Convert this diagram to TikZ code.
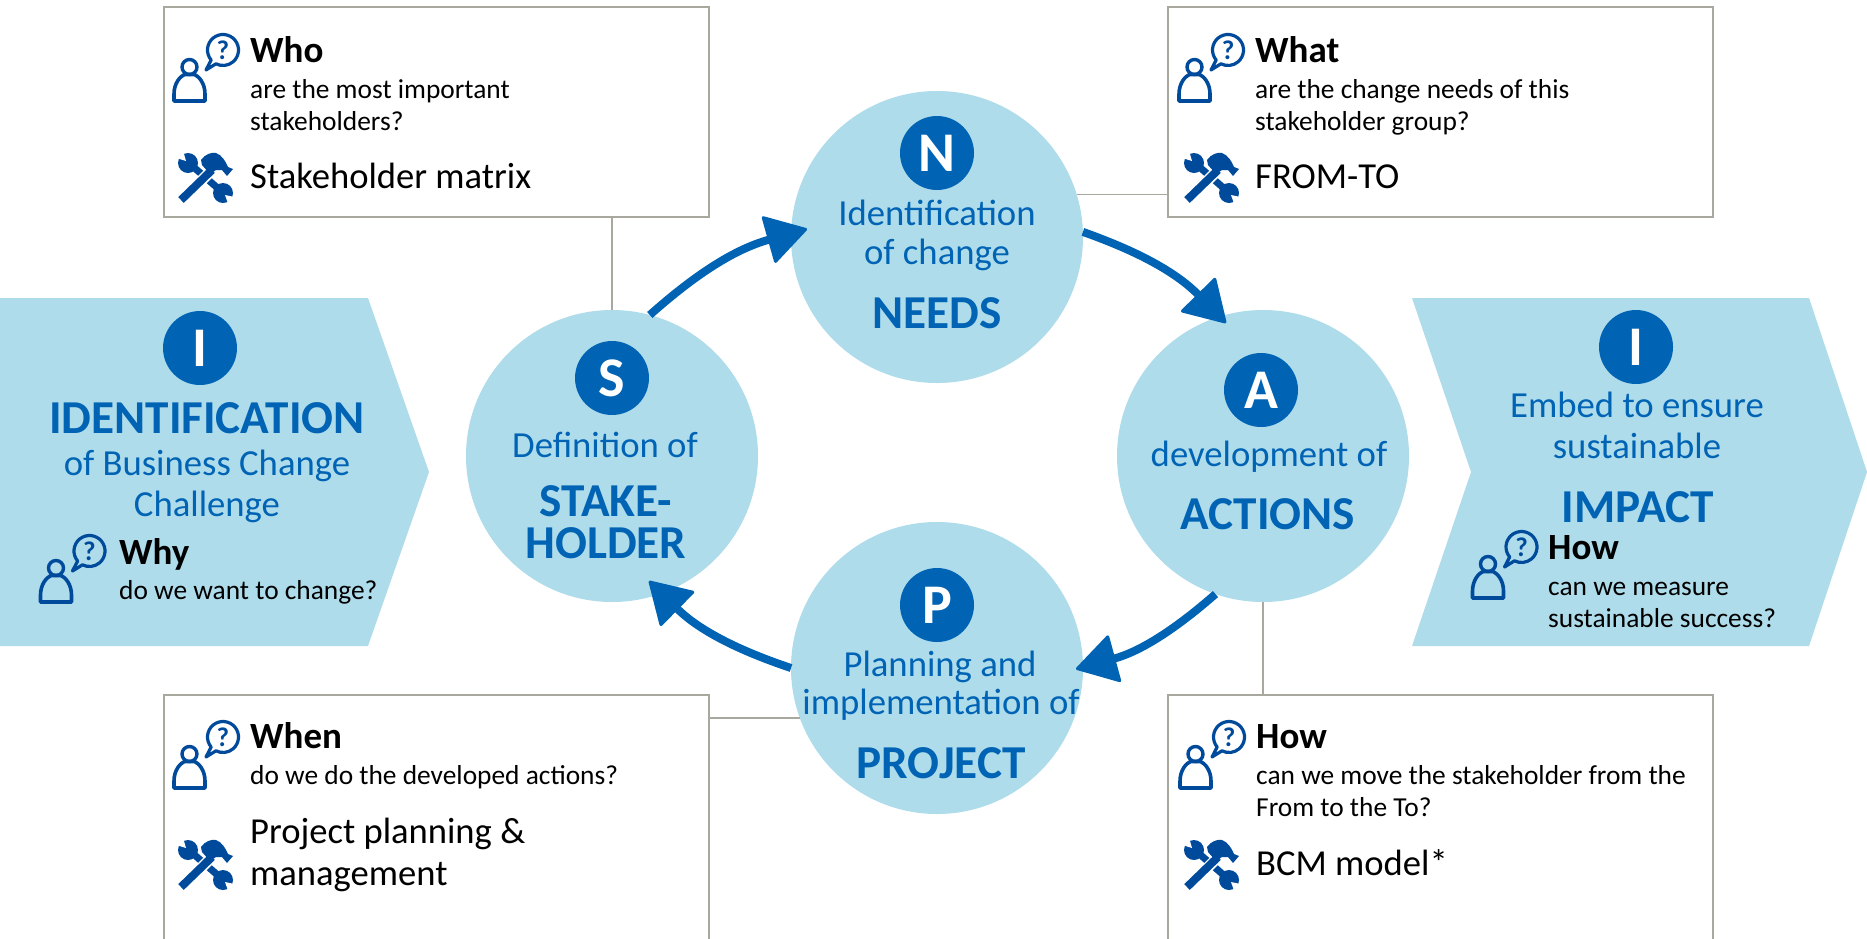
\documentclass[tikz,border=0pt]{standalone}
\usepackage{fontspec}
\setmainfont{Carlito}
\usetikzlibrary{arrows.meta}
\definecolor{paleblue}{HTML}{AEDCEB}
\definecolor{deepblue}{HTML}{0063B4}
\definecolor{iconblue}{HTML}{004A9C}
\definecolor{boxgrey}{HTML}{A8A89E}
\newcommand{\fs}[1]{\fontsize{#1}{#1}\selectfont}
\tikzset{
  askbox/.style={draw=boxgrey,line width=1.5pt,fill=white,anchor=north west,minimum width=545pt,inner sep=0pt,outer sep=0pt},
  disc/.style={circle,fill=paleblue,minimum size=292pt,inner sep=0pt,outer sep=0pt},
  badge/.style={circle,fill=deepblue,text=white,minimum size=74pt,inner sep=0pt,font=\fs{56}\bfseries},
  thin text/.style={anchor=base,inner sep=0pt,text=deepblue,font=\fs{36.7}},
  big text/.style={anchor=base,inner sep=0pt,text=deepblue,font=\fs{47.2}\bfseries},
  head text/.style={anchor=base west,inner sep=0pt,font=\fs{37}\bfseries},
  body text/.style={anchor=base west,inner sep=0pt,font=\fs{27.4}},
  tool text/.style={anchor=base west,inner sep=0pt,font=\fs{36.6}},
  link/.style={draw=boxgrey,line width=1.5pt},
  flow/.style={draw=deepblue,line width=8pt,-{Triangle[length=42pt,width=50pt,round,line width=3pt]}},
  pics/asker/.style={code={
    \draw[iconblue,line width=3.4pt] (0,0) circle (7.5);
    \draw[iconblue,line width=3.6pt,line join=round] (-15.5,34) -- (-15.5,27) .. controls (-15.5,16) and (-9,9) .. (-5,7.5)
      -- (5,7.5) .. controls (9,9) and (15.5,16) .. (15.5,27) -- (15.5,34) -- cycle;
    \draw[iconblue,line width=3.2pt,line join=round] (21.63,-7.04) arc[start angle=140,end angle=477,radius=15.5] -- (16.5,3) -- cycle;
    \node[inner sep=0pt,text=iconblue,font=\fs{27}\bfseries] (-q) at (33.5,-17) {?};
  }},
  pics/kit/.style={code={
    \draw[iconblue,line width=7pt] (-15,-13) -- (16,14);
    \fill[iconblue] (-17,-14) circle (10) (18,16) circle (10);
    \fill[white] (-19,-16) -- (-32,-20) -- (-23,-30) -- cycle (20,18) -- (34,21) -- (25,32) -- cycle;
    \draw[white,line width=11pt] (-20,20) -- (7,-7);
    \draw[iconblue,line width=8pt] (-24,23) -- (7,-7);
    \fill[iconblue] (-4,-17) .. controls (0,-23) and (7,-25) .. (11,-24) .. controls (17,-22) and (21,-15) .. (23,-10) -- (28,-8) -- (22,-1) -- (17,-7) -- (11,-7) -- (5,-3) -- (-3,-12) -- cycle;
  }}
}
\begin{document}
\begin{tikzpicture}[x=1pt,y=-1pt]
\useasboundingbox (0,0) rectangle (1867,938);
\clip (0,0) rectangle (1867,938);

% chevrons
\fill[paleblue] (0,298) -- (368,298) -- (429,472) -- (368,646) -- (0,646) -- cycle;
\fill[paleblue] (1412,298) -- (1809,298) -- (1867,472) -- (1809,646) -- (1412,646) -- (1471,472) -- cycle;

% boxes
\node[askbox,minimum height=210pt] (who) at (164,7) {};
\node[askbox,minimum height=210pt] (what) at (1168,7) {};
\node[askbox,minimum height=270pt] (when) at (164,695) {};
\node[askbox,minimum height=270pt] (how) at (1168,695) {};

% circles
\node[disc] (stake) at (612,456) {};
\node[disc] (needs) at (937,237) {};
\node[disc] (actions) at (1263,456) {};
\node[disc] (project) at (937,668) {};

\draw[link] (stake.north) -- (stake.north |- who.south);
\draw[link] (needs.17) -- (needs.17 -| what.west);
\draw[link] (project.200) -- (project.200 -| when.east);
\draw[link] (actions.south) -- (actions.south |- how.north);

% cycle arrows
\coordinate (needsin) at (807,229);
\coordinate (actionsin) at (1226,323);
\coordinate (projectin) at (1076,669);
\coordinate (stakein) at (649,581);
\draw[flow] (stake.75) to[bend left=13] (needsin);
\draw[flow] (needs.2) to[bend left=13] (actionsin);
\draw[flow] (actions.251) to[bend left=13] (projectin);
\draw[flow] (project.180) to[bend left=13] (stakein);

% badges
\node[badge] (bi) at (200,348) {I};
\node[badge] (bs) at (612,378) {S};
\node[badge] (bn) at (937,153) {N};
\node[badge] (ba) at (1261,390) {A};
\node[badge] (bp) at (937,605) {P};
\node[badge] (bj) at (1636,347) {I};

% left chevron
\node[big text] (lt1) at (207,433) {IDENTIFICATION};
\node[thin text] (lt2) at (207,475) {of Business Change};
\node[thin text] (lt3) at (207,516) {Challenge};
\node[head text] (lt4) at (119,564) {Why};
\node[body text] (lt5) at (119,599) {do we want to change?};

% circle texts
\node[thin text] (st1) at (605,457) {Definition of};
\node[big text,anchor=center,align=center] (st2) at (606,522) {STAKE-\\[-5.2pt]HOLDER};
\node[thin text] (nd1) at (937,225) {Identification};
\node[thin text] (nd2) at (937,264) {of change};
\node[big text] (nd3) at (937,328) {NEEDS};
\node[thin text] (ac1) at (1269,466) {development of};
\node[big text] (ac2) at (1268,529) {ACTIONS};
\node[thin text] (pr1) at (940,676) {Planning and};
\node[thin text] (pr2) at (941,714) {implementation of};
\node[big text] (pr3) at (941,778) {PROJECT};

% right chevron
\node[thin text] (rt1) at (1637,417) {Embed to ensure};
\node[thin text] (rt2) at (1637,458) {sustainable};
\node[big text] (rt3) at (1638,522) {IMPACT};
\node[head text] (rt4) at (1548,559) {How};
\node[body text] (rt5) at (1548,595) {can we measure};
\node[body text] (rt6) at (1548,627) {sustainable success?};

% box texts
\node[head text] (wo1) at (250,62) {Who};
\node[body text] (wo2) at (250,98) {are the most important};
\node[body text] (wo3) at (250,130) {stakeholders?};
\node[tool text] (wo4) at (250,188) {Stakeholder matrix};
\node[head text] (wt1) at (1255,62) {What};
\node[body text] (wt2) at (1255,98) {are the change needs of this};
\node[body text] (wt3) at (1255,130) {stakeholder group?};
\node[tool text] (wt4) at (1255,188) {FROM-TO};
\node[head text] (wn1) at (250,748) {When};
\node[body text] (wn2) at (250,784) {do we do the developed actions?};
\node[tool text] (wn3) at (250,843) {Project planning \&};
\node[tool text] (wn4) at (250,885) {management};
\node[head text] (hw1) at (1256,748) {How};
\node[body text] (hw2) at (1256,784) {can we move the stakeholder from the};
\node[body text] (hw3) at (1256,816) {From to the To?};
\node[tool text] (hw4) at (1256,875) {BCM model*};

% icons
\foreach \n/\x/\y in {aa/56/568,ab/1488/564,ac/189.5/67,ad/1194.5/67,ae/189.5/754,af/1195.5/754}
  \pic (\n) at (\x,\y) {asker};
\foreach \n/\x/\y in {ka/205/177,kb/1211/177,kc/205/864,kd/1211/864}
  \pic (\n) at (\x,\y) {kit};
\end{tikzpicture}
\end{document}
